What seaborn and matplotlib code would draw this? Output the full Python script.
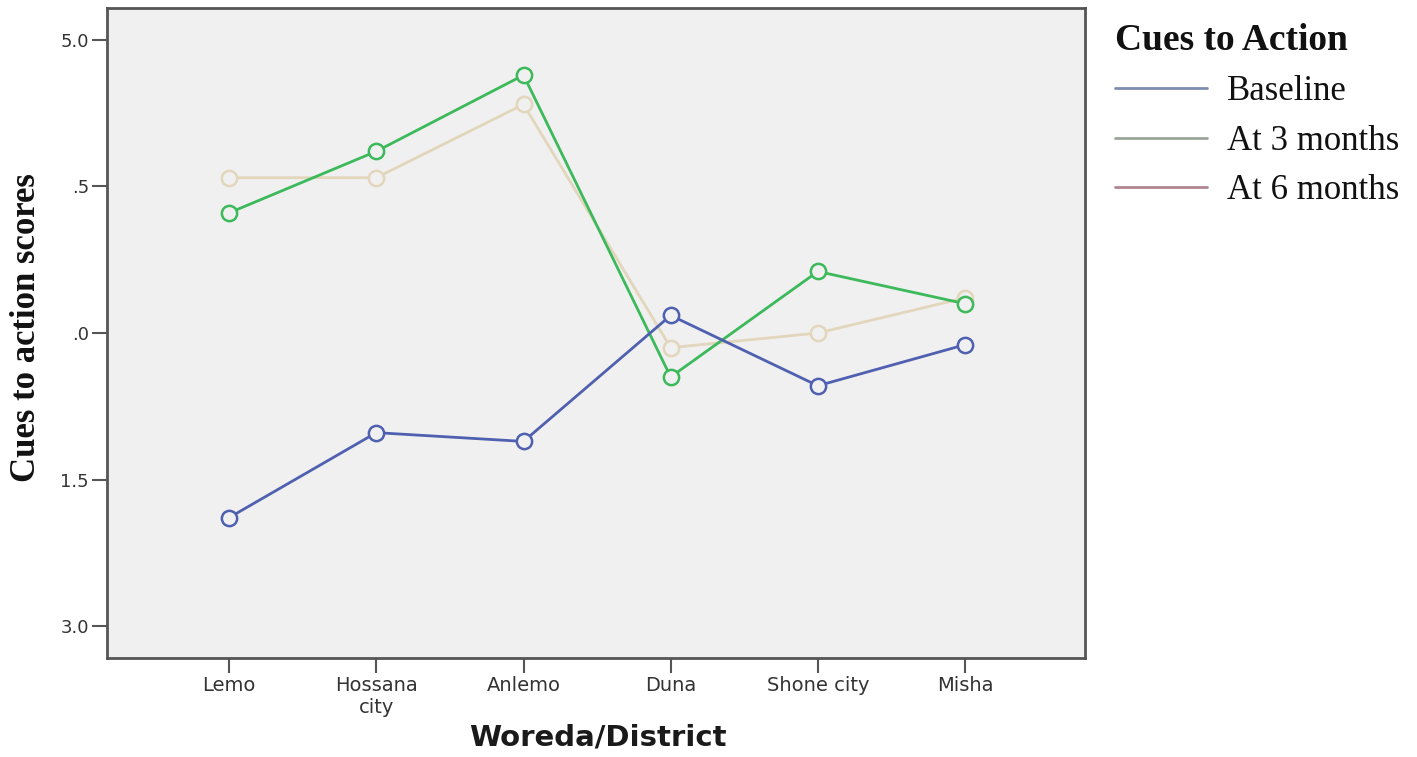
import pandas as pd
import seaborn as sns
import matplotlib.pyplot as plt
from matplotlib.lines import Line2D

# data
districts = ['Lemo', 'Hossana\ncity', 'Anlemo', 'Duna', 'Shone city', 'Misha']
baseline = [3.37, 3.66, 3.63, 4.06, 3.82, 3.96]
month3 = [4.41, 4.62, 4.88, 3.85, 4.21, 4.10]
month6 = [4.53, 4.53, 4.78, 3.95, 4.00, 4.12]
y_ticks = [5.0, 4.5, 4.0, 3.5, 3.0]
y_labels = ['5.0', '.5', '.0', '1.5', '3.0']
series = ['Baseline', 'At 3 months', 'At 6 months']

df = pd.DataFrame({
    'district': districts * 3,
    'score': baseline + month3 + month6,
    'time': [s for s in series for _ in districts],
})

bg = '#f0f0f0'
line_cols = {'Baseline': '#5060b0', 'At 3 months': '#3cb95a', 'At 6 months': '#e2d6bc'}
leg_cols = ['#7d8db0', '#9aa69a', '#b08590']
order = ['At 6 months', 'At 3 months', 'Baseline']

sns.set_style('white')
fig = plt.figure(figsize=(14.17, 7.57), dpi=100)
ax = fig.add_axes([0.0755, 0.1308, 0.6902, 0.8586])
ax.set_facecolor(bg)

sns.lineplot(ax=ax, data=df, x='district', y='score', hue='time',
             hue_order=order, palette=line_cols, sort=False, legend=False,
             linewidth=2, marker='o', markersize=11, markeredgewidth=1.8)

# hollow markers, edge in line colour
for ln, name in zip(ax.get_lines(), order):
    ln.set_markeredgecolor(line_cols[name])
    ln.set_markerfacecolor(bg)

# axes format
ax.set_xlim(-0.83, 5.815)
ax.set_ylim(2.891, 5.109)
ax.set_yticks(y_ticks)
ax.set_yticklabels(y_labels)
for sp in ax.spines.values():
    sp.set_color('#555555')
    sp.set_linewidth(2)
ax.tick_params(axis='both', direction='out', length=11, width=1.5, color='#555555',
               labelcolor='#333333', pad=2, bottom=True, left=True)
ax.tick_params(axis='x', labelsize=14)
ax.tick_params(axis='y', labelsize=13)
ax.set_xlabel('Woreda/District', fontsize=21, fontweight='bold', color='#1a1a1a')
ax.xaxis.set_label_coords(0.502, -0.101)
ax.set_ylabel('Cues to action scores', fontsize=25, fontweight='bold',
              family='Liberation Serif', color='#111111')
ax.yaxis.set_label_coords(-0.065, 0.508)

# legend
handles = [Line2D([0], [0], color=c, lw=2) for c in leg_cols]
leg = fig.legend(handles, series, loc='upper left', bbox_to_anchor=(0.787, 0.969),
                 frameon=False, title='Cues to Action', handlelength=2.65,
                 labelspacing=0.48, handletextpad=0.58, borderpad=0, borderaxespad=0,
                 prop={'family': 'Liberation Serif', 'size': 25},
                 title_fontproperties={'family': 'Liberation Serif', 'size': 27, 'weight': 'bold'})
leg._legend_box.align = 'left'
for t in leg.get_texts():
    t.set_color('#111111')
leg.get_title().set_color('#111111')

fig.savefig('out.png', dpi=100)
